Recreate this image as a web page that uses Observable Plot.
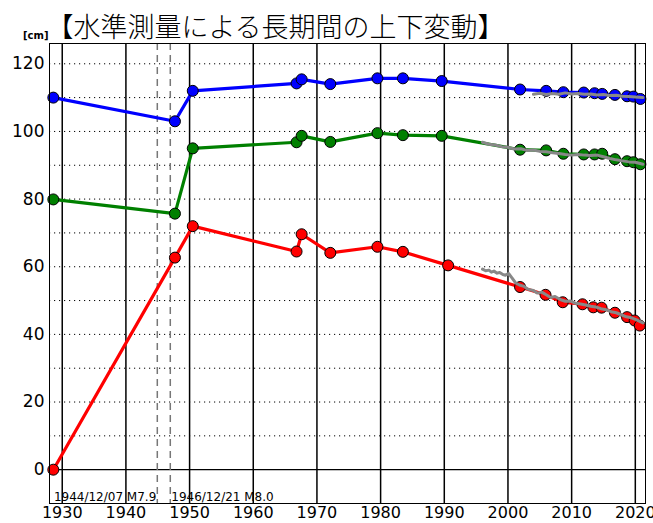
<!DOCTYPE html>
<html>
<head>
<meta charset="utf-8">
<script src="https://cdn.jsdelivr.net/npm/d3@7"></script>
<script src="https://cdn.jsdelivr.net/npm/@observablehq/plot@0.6"></script>
<style>
  html, body { margin: 0; padding: 0; background: #fff; }
</style>
</head>
<body>
<div id="chart"></div>
<script>
const titleText = "【水準測量による長期間の上下変動】";
const unitText = "[cm]";

const xTicks = [1930, 1940, 1950, 1960, 1970, 1980, 1990, 2000, 2010, 2020];
const yTicks = [0, 20, 40, 60, 80, 100, 120];
const yGrid = [10, 20, 30, 40, 50, 60, 70, 80, 90, 100, 110, 120];

const quakeYears = [1944.93, 1946.97];
const quakeLabels = ["1944/12/07 M7.9", "1946/12/21 M8.0"];

// Benchmarks (blue, green share survey epochs)
const bgYears = [1928.6, 1947.7, 1950.5, 1966.8, 1967.6, 1972.1, 1979.5, 1983.5, 1989.6, 2001.9, 2006.0, 2008.7, 2011.9, 2013.6, 2014.8, 2016.8, 2018.7, 2019.7, 2020.8];
const blueValues = [110.0, 103.0, 112.0, 114.2, 115.4, 114.0, 115.7, 115.7, 114.9, 112.4, 112.0, 111.6, 111.5, 111.3, 111.1, 110.8, 110.4, 110.3, 109.6];
const greenValues = [79.9, 75.7, 95.0, 96.8, 98.7, 96.9, 99.5, 98.9, 98.7, 94.6, 94.4, 93.4, 93.2, 93.2, 93.4, 91.8, 91.2, 90.9, 90.3];
const redYears = [1928.6, 1947.7, 1950.5, 1966.8, 1967.6, 1972.1, 1979.5, 1983.5, 1990.6, 2001.9, 2005.9, 2008.6, 2011.7, 2013.4, 2014.7, 2016.8, 2018.7, 2019.9, 2020.7];
const redValues = [0, 62.7, 72.0, 64.5, 69.6, 64.1, 65.9, 64.4, 60.4, 54.0, 51.7, 49.5, 48.9, 48.0, 47.9, 46.4, 45.1, 44.1, 42.6];

// Gray continuous traces
const grayBlueYears = [2004.0, 2005, 2006, 2007, 2008, 2009, 2010, 2011, 2012, 2013, 2014, 2015, 2016, 2017, 2018, 2019, 2020, 2021.2];
const grayBlueValues = [111.0, 111.3, 110.9, 111.2, 111.0, 111.4, 111.1, 111.2, 111.0, 111.1, 110.8, 110.9, 110.6, 110.7, 110.4, 110.3, 110.2, 110.0];
const grayGreenYears = [1996.0, 1997, 1998, 1999, 2000, 2001, 2002, 2003, 2004, 2005, 2006, 2007, 2008, 2009, 2010, 2011, 2012, 2013, 2014, 2015, 2016, 2017, 2018, 2019, 2020, 2021.2];
const grayGreenValues = [96.8, 96.2, 96.0, 95.5, 95.3, 94.8, 94.9, 94.4, 94.5, 94.1, 94.0, 93.7, 93.5, 93.2, 93.0, 93.2, 93.0, 92.9, 93.0, 92.5, 92.0, 91.6, 91.3, 91.0, 90.9, 90.3];
const grayRedYears = [1996.0, 1996.5, 1997.0, 1997.4, 1997.8, 1998.3, 1998.7, 1999.2, 1999.6, 2000.1, 2000.6, 2001.2, 2001.8, 2002.5, 2003.2, 2004.0, 2004.6, 2005.3, 2006.0, 2006.7, 2007.4, 2008.2, 2009.0, 2009.8, 2010.6, 2011.4, 2012.2, 2013.0, 2013.8, 2014.6, 2015.4, 2016.2, 2017.0, 2017.8, 2018.6, 2019.4, 2020.2, 2021.2];
const grayRedValues = [59.3, 58.8, 59.0, 58.4, 58.7, 58.1, 58.3, 57.7, 57.5, 58.0, 56.8, 55.2, 54.6, 54.2, 53.3, 53.0, 52.2, 52.5, 51.7, 50.9, 51.2, 50.3, 49.8, 49.9, 49.2, 49.0, 48.7, 48.3, 48.1, 47.6, 47.3, 46.7, 46.4, 45.8, 45.2, 44.9, 44.3, 43.4];

const series = [
  {name: "blue", color: "#0000ff", years: bgYears, values: blueValues},
  {name: "green", color: "#008000", years: bgYears, values: greenValues},
  {name: "red", color: "#ff0000", years: redYears, values: redValues}
];
const points = series.flatMap(s => s.years.map((yr, i) => ({series: s.name, color: s.color, year: yr, value: s.values[i]})));

const grays = [
  {name: "blue", years: grayBlueYears, values: grayBlueValues},
  {name: "green", years: grayGreenYears, values: grayGreenValues},
  {name: "red", years: grayRedYears, values: grayRedValues}
];
const grayPoints = grays.flatMap(s => s.years.map((yr, i) => ({series: s.name, year: yr, value: s.values[i]})));

const chart = Plot.plot({
  width: 653,
  height: 523,
  marginTop: 43,
  marginLeft: 49,
  marginRight: 8,
  marginBottom: 20,
  style: {fontFamily: "DejaVu Sans", background: "#fff", color: "#000"},
  x: {domain: [1928, 2021.6]},
  y: {domain: [-10, 126]},
  marks: [
    Plot.ruleY(yGrid, {stroke: "#000", strokeWidth: 1, strokeDasharray: "1.2,3.8"}),
    Plot.ruleY([0], {stroke: "#000", strokeWidth: 1.3}),
    Plot.ruleX(xTicks, {stroke: "#000", strokeWidth: 1.5}),
    Plot.ruleX(quakeYears, {stroke: "#777", strokeWidth: 1.5, strokeDasharray: "7,5"}),
    Plot.line(points, {x: "year", y: "value", z: "series", stroke: "color", strokeWidth: 3.2}),
    Plot.dot(points, {x: "year", y: "value", fill: "color", stroke: "#000", strokeWidth: 1, r: 5.5}),
    Plot.line(grayPoints, {x: "year", y: "value", z: "series", stroke: "#888", strokeWidth: 3}),
    Plot.text([quakeLabels[0]], {x: [quakeYears[0]], frameAnchor: "bottom", textAnchor: "end", lineAnchor: "bottom", dx: -1, dy: -3, fontSize: 12, fill: "#000"}),
    Plot.text([quakeLabels[1]], {x: [quakeYears[1]], frameAnchor: "bottom", textAnchor: "start", lineAnchor: "bottom", dx: 1, dy: -3, fontSize: 12, fill: "#000"}),
    Plot.frame({stroke: "#000", strokeWidth: 1}),
    Plot.axisX({ticks: xTicks, tickSize: 0, tickPadding: 3, tickFormat: d => String(d), fontSize: 16, label: null}),
    Plot.axisY({ticks: yTicks, tickSize: 0, tickPadding: 5, fontSize: 17, label: null}),
    Plot.text([titleText], {frameAnchor: "top-left", textAnchor: "middle", lineAnchor: "bottom", dx: 226, dy: -7, fontSize: 27, fontWeight: 300, fontFamily: "Noto Sans CJK JP", fill: "#000"}),
    Plot.text([unitText], {frameAnchor: "top-left", textAnchor: "end", lineAnchor: "bottom", dx: -1, dy: -5, fontSize: 10, fontWeight: "bold", fill: "#000"})
  ]
});
document.getElementById("chart").appendChild(chart);
</script>
</body>
</html>
